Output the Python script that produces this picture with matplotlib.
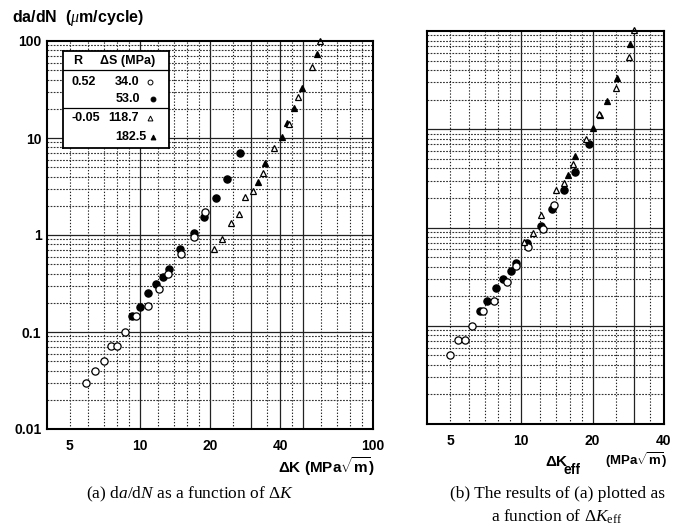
import numpy as np
import matplotlib.pyplot as plt
from matplotlib.ticker import NullLocator

plt.rcParams['font.family'] = ['Liberation Sans', 'DejaVu Sans']
plt.rcParams['mathtext.fontset'] = 'custom'
plt.rcParams['mathtext.rm'] = 'Liberation Serif'
plt.rcParams['mathtext.it'] = 'Liberation Serif:italic'
plt.rcParams['mathtext.bf'] = 'Liberation Sans:bold'

# (a) da/dN against dK, um/cycle
a_open_circ_x = [5.9, 6.4, 7.0, 7.5, 8.0, 8.6, 9.6, 10.8, 12.1, 13.2, 15.0, 17.1, 19.1]
a_open_circ_y = [0.030, 0.040, 0.050, 0.071, 0.071, 0.10, 0.146, 0.185, 0.28, 0.40, 0.64, 0.96, 1.74]
a_fill_circ_x = [9.3, 10.0, 10.8, 11.7, 12.6, 13.3, 14.8, 17.0, 18.8, 21.2, 23.6, 26.9]
a_fill_circ_y = [0.146, 0.18, 0.25, 0.31, 0.37, 0.45, 0.71, 1.04, 1.55, 2.4, 3.8, 7.0]
a_open_tri_x = [20.9, 22.6, 24.6, 26.6, 28.2, 30.7, 33.7, 37.7, 43.7, 47.5, 55.0, 59.0]
a_open_tri_y = [0.71, 0.91, 1.34, 1.63, 2.45, 2.85, 4.4, 7.8, 14.0, 26.5, 54.0, 100.0]
a_fill_tri_x = [32.2, 34.4, 40.7, 42.9, 45.7, 49.4, 57.3]
a_fill_tri_y = [3.5, 5.5, 10.2, 14.3, 20.4, 33.0, 73.0]

# (b) da/dN against dK_eff
b_open_circ_x = [5.0, 5.4, 5.8, 6.2, 6.9, 7.7, 8.7, 9.5, 10.7, 12.3, 13.7]
b_open_circ_y = [0.050, 0.071, 0.071, 0.10, 0.14, 0.18, 0.28, 0.41, 0.63, 0.96, 1.7]
b_fill_circ_x = [6.7, 7.2, 7.8, 8.4, 9.05, 9.5, 10.6, 12.1, 13.5, 15.2, 16.9, 19.3]
b_fill_circ_y = [0.14, 0.18, 0.245, 0.30, 0.36, 0.44, 0.70, 1.04, 1.56, 2.4, 3.7, 7.0]
b_open_tri_x = [10.3, 11.2, 12.1, 14.0, 15.2, 16.6, 18.8, 21.3, 25.2, 28.6, 29.9]
b_open_tri_y = [0.71, 0.87, 1.34, 2.41, 2.84, 4.45, 8.0, 14.2, 26.0, 54.0, 103.0]
b_fill_tri_x = [15.8, 16.9, 20.1, 21.5, 23.1, 25.4, 28.7]
b_fill_tri_y = [3.45, 5.4, 10.2, 14.0, 19.4, 33.0, 74.0]

legend_R = ['0.52', '', '-0.05', '']
legend_dS = ['34.0', '53.0', '118.7', '182.5']

a_xticks = [5, 10, 20, 40, 100]
b_xticks = [5, 10, 20, 40]
yticks = [0.01, 0.1, 1, 10, 100]
ytick_labels = ['0.01', '0.1', '1', '10', '100']

a_solid_x = [10, 20, 30, 40, 50]
a_dot_x = [5, 6, 7, 8, 9, 12, 14, 16, 18, 25, 35, 45, 60, 70, 80, 90]
b_solid_x = [10, 20, 30]
b_dot_x = [5, 6, 7, 8, 9, 12, 14, 16, 18, 25, 35]
solid_y = [0.1, 1, 10]
dot_y = [k * 10.0 ** e for e in range(-2, 2) for k in range(2, 10)]

W, H = 676, 531
fig = plt.figure(figsize=(W / 100, H / 100), dpi=100)


def px_axes(l, t, r, b):
    return fig.add_axes([l / W, 1 - b / H, (r - l) / W, (b - t) / H])


def style_axes(ax, xlim, solid_x, dot_x, xticks):
    ax.set_xscale('log')
    ax.set_yscale('log')
    ax.set_xlim(*xlim)
    ax.set_ylim(0.01, 100)
    for v in solid_x:
        ax.axvline(v, color='#222222', lw=0.9, zorder=1)
    for v in dot_x:
        ax.axvline(v, color='#222222', lw=0.8, ls=(0, (1.2, 1.6)), zorder=1)
    for v in solid_y:
        ax.axhline(v, color='#222222', lw=0.9, zorder=1)
    for v in dot_y:
        ax.axhline(v, color='#333333', lw=0.8, ls=(0, (1.6, 1.2)), zorder=1)
    ax.xaxis.set_minor_locator(NullLocator())
    ax.yaxis.set_minor_locator(NullLocator())
    ax.set_xticks(xticks)
    ax.set_xticklabels([str(t) for t in xticks], fontweight='bold', fontsize=10)
    ax.tick_params(length=0, pad=7)
    for s in ax.spines.values():
        s.set_linewidth(1.5)
        s.set_zorder(4)


def draw_points(ax, oc_x, oc_y, fc_x, fc_y, ot_x, ot_y, ft_x, ft_y):
    kw = dict(ls='none', mew=0.9, mec='black', zorder=3, clip_on=False)
    ax.plot(fc_x, fc_y, marker='o', mfc='black', ms=5.2, **kw)
    ax.plot(oc_x, oc_y, marker='o', mfc='white', ms=5.2, **kw)
    ax.plot(ft_x, ft_y, marker='^', mfc='black', ms=4.8, **kw)
    ax.plot(ot_x, ot_y, marker='^', mfc='white', ms=4.8, **kw)


ax1 = px_axes(47, 41, 373, 429)
style_axes(ax1, (4, 100), a_solid_x, a_dot_x, a_xticks)
ax1.set_yticks(yticks)
ax1.set_yticklabels(ytick_labels, fontweight='bold', fontsize=10)
ax1.tick_params(axis='y', pad=4)
draw_points(ax1, a_open_circ_x, a_open_circ_y, a_fill_circ_x, a_fill_circ_y,
            a_open_tri_x, a_open_tri_y, a_fill_tri_x, a_fill_tri_y)

ax2 = px_axes(427, 31, 664, 424)
style_axes(ax2, (4, 40), b_solid_x, b_dot_x, b_xticks)
ax2.set_yticks([])
draw_points(ax2, b_open_circ_x, b_open_circ_y, b_fill_circ_x, b_fill_circ_y,
            b_open_tri_x, b_open_tri_y, b_fill_tri_x, b_fill_tri_y)

# legend table
lg = px_axes(63, 51, 169, 148)
lg.set_xlim(0, 106)
lg.set_ylim(97, 0)
lg.set_xticks([])
lg.set_yticks([])
lg.set_zorder(5)
for s in lg.spines.values():
    s.set_linewidth(1.3)
tk = dict(fontweight='bold', fontsize=9, va='center')
lg.text(15, 10, 'R', ha='center', **tk)
lg.text(37, 10, 'ΔS (MPa)', ha='left', **tk)
lg.axhline(19, color='black', lw=0.9)
lg.axhline(57, color='black', lw=0.9)
rows_y = [31, 48, 67, 86]
num_x = [76, 77, 76, 83]
mk = [('o', 'white'), ('o', 'black'), ('^', 'white'), ('^', 'black')]
mk_x = [87, 90, 87, 90]
for i in range(4):
    if legend_R[i]:
        lg.text(8, rows_y[i], legend_R[i], ha='left', **tk)
    lg.text(num_x[i], rows_y[i], legend_dS[i], ha='right', **tk)
    lg.plot([mk_x[i]], [rows_y[i]], marker=mk[i][0], mfc=mk[i][1], mec='black',
            ms=3.5, mew=0.7)

# axis titles
fig.text(12 / W, 1 - 18 / H, 'da/dN  (' + r'$\mu$' + 'm/cycle)', fontweight='bold',
         fontsize=11.5, va='center', ha='left')
fig.text(375 / W, 1 - 467 / H, 'ΔK (MPa' + r'$\sqrt{\mathbf{m}}$' + ')', fontweight='bold',
         fontsize=11, va='center', ha='right')
fig.text(545 / W, 1 - 462 / H, 'ΔK', fontweight='bold', fontsize=11, va='center', ha='left')
fig.text(564 / W, 1 - 470 / H, 'eff', fontweight='bold', fontsize=10, va='center', ha='left')
fig.text(667 / W, 1 - 460 / H, '(MPa' + r'$\sqrt{\mathbf{m}}$' + ')', fontweight='bold',
         fontsize=9.5, va='center', ha='right')

# captions
cap = dict(family='Liberation Serif', fontsize=12.5, va='center', ha='center')
fig.text(190 / W, 1 - 494 / H, r'(a) d$a$/d$N$ as a function of $\Delta K$', **cap)
fig.text(558 / W, 1 - 494 / H, '(b) The results of (a) plotted as', **cap)
fig.text(557 / W, 1 - 517 / H, r'a function of $\Delta K_{\mathrm{eff}}$', **cap)

fig.savefig('out.png', dpi=100)
